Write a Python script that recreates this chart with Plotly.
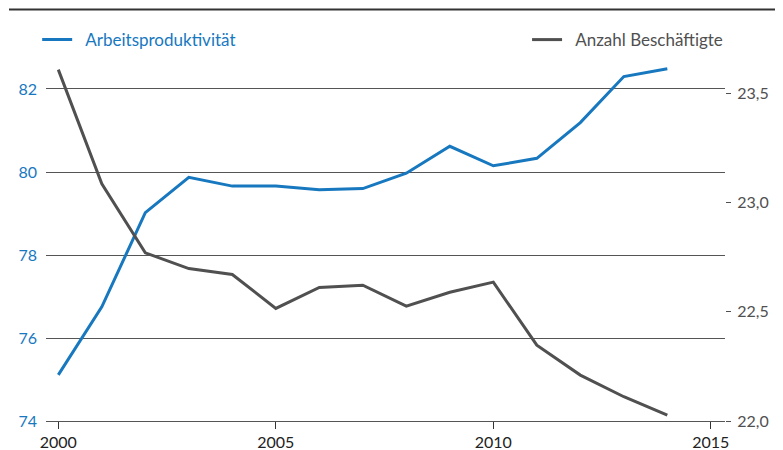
import plotly.graph_objects as go

# Jahre
years = list(range(2000, 2015))

# Arbeitsproduktivität (linke Achse)
productivity = [75.11, 76.75, 79.02, 79.87, 79.66, 79.66, 79.57, 79.60,
                79.97, 80.62, 80.15, 80.33, 81.19, 82.30, 82.49]

# Anzahl Beschäftigte (rechte Achse)
employees = [23.607, 23.085, 22.769, 22.697, 22.670, 22.515, 22.611, 22.621,
             22.525, 22.589, 22.635, 22.347, 22.210, 22.111, 22.027]

left_ticks = [74, 76, 78, 80, 82]
right_ticks = [22.0, 22.5, 23.0, 23.5]
x_ticks = [2000, 2005, 2010, 2015]

BLUE = "#1778bf"
GRAY = "#505050"
FONT = "Lato, sans-serif"
SP = "\u00a0\u00a0"

fig = go.Figure()

fig.add_trace(go.Scatter(
    x=years, y=productivity, name=SP + "Arbeitsproduktivität",
    mode="lines", line={"color": BLUE, "width": 3},
    yaxis="y", legend="legend",
))

fig.add_trace(go.Scatter(
    x=years, y=employees, name=SP + "Anzahl Beschäftigte",
    mode="lines", line={"color": GRAY, "width": 3},
    yaxis="y2", legend="legend2",
))

# top rule
fig.add_shape(type="line", xref="paper", yref="paper",
              x0=-0.0545, x1=1.1, y0=1.039, y1=1.039,
              line={"color": "#333333", "width": 2})

# the page is shown with the browser's 8px body margin, so margins are offset
fig.update_layout(
    width=783,
    height=450,
    margin={"l": 38, "r": 66, "t": 17, "b": 37},
    paper_bgcolor="white",
    plot_bgcolor="white",
    separators=",.",
    showlegend=True,
    font={"family": FONT, "size": 16, "color": "#222222"},
    xaxis={
        "range": [1999.717, 2015.326],
        "tickvals": x_ticks,
        "ticks": "outside",
        "ticklen": 7,
        "tickcolor": "#333333",
        "showline": True,
        "linecolor": "#555555",
        "linewidth": 1,
        "showgrid": False,
        "zeroline": False,
        "automargin": False,
        "tickfont": {"size": 16, "color": "#222222"},
    },
    yaxis={
        "range": [74, 83.542],
        "tickvals": left_ticks,
        "showgrid": True,
        "gridcolor": "#555555",
        "gridwidth": 1,
        "zeroline": False,
        "ticks": "",
        "ticklabelstandoff": 8,
        "automargin": False,
        "tickfont": {"size": 16, "color": BLUE},
    },
    yaxis2={
        "range": [22.0, 23.811],
        "overlaying": "y",
        "side": "right",
        "tickvals": right_ticks,
        "tickformat": ".1f",
        "showgrid": False,
        "zeroline": False,
        "ticks": "outside",
        "ticklen": 5,
        "tickcolor": GRAY,
        "ticklabelstandoff": 3,
        "automargin": False,
        "tickfont": {"size": 16, "color": GRAY},
    },
    legend={
        "x": -0.013, "y": 0.962, "xanchor": "left", "yanchor": "middle",
        "orientation": "h",
        "font": {"size": 17, "color": BLUE},
        "bgcolor": "rgba(0,0,0,0)",
    },
    legend2={
        "x": 1.0045, "y": 0.962, "xanchor": "right", "yanchor": "middle",
        "orientation": "h",
        "font": {"size": 17, "color": GRAY},
        "bgcolor": "rgba(0,0,0,0)",
    },
)

fig.write_html("out.html")
